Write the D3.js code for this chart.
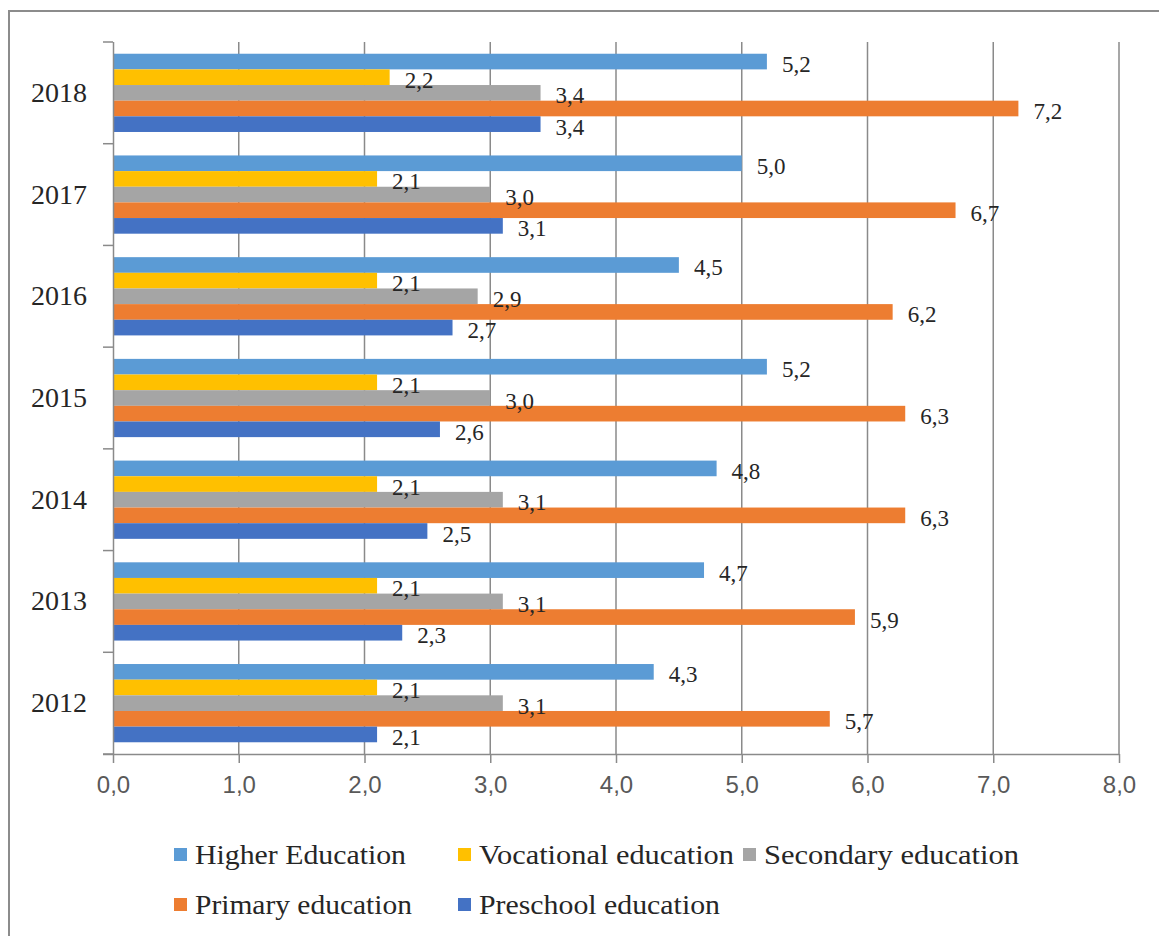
<!DOCTYPE html>
<html><head><meta charset="utf-8">
<script src="https://cdn.jsdelivr.net/npm/d3@7"></script>
<style>body{margin:0;background:#fff;} svg{display:block;}</style>
</head><body>
<svg id="c" width="1159" height="936"></svg>
<script>
const years = ["2018","2017","2016","2015","2014","2013","2012"];
const seriesNames = ["Higher Education","Vocational education","Secondary education","Primary education","Preschool education"];
const seriesColors = ["#5B9BD5","#FFC000","#A5A5A5","#ED7D31","#4472C4"];
const higher    = [5.2,5.0,4.5,5.2,4.8,4.7,4.3];
const vocational= [2.2,2.1,2.1,2.1,2.1,2.1,2.1];
const secondary = [3.4,3.0,2.9,3.0,3.1,3.1,3.1];
const primary   = [7.2,6.7,6.2,6.3,6.3,5.9,5.7];
const preschool = [3.4,3.1,2.7,2.6,2.5,2.3,2.1];
const xTicks = [0,1,2,3,4,5,6,7,8];

const seriesValues = [higher,vocational,secondary,primary,preschool];
const svg = d3.select("#c");

// outer border
svg.append("rect").attr("x",9).attr("y",11).attr("width",1170).attr("height",950)
  .attr("fill","none").attr("stroke","#8c8c8c").attr("stroke-width",2);

const x = d3.scaleLinear().domain([0,8]).range([113,1119]);
const y0 = d3.scaleBand().domain(years).range([42,754]).padding(0);
const bw = y0.bandwidth();
const groupH = bw/1.3;
const off = (bw-groupH)/2;
const y1 = d3.scaleBand().domain(seriesNames).range([off, off+groupH]).padding(0);

// gridlines
svg.append("g").selectAll("line").data(xTicks.slice(1)).join("line")
  .attr("x1",d=>x(d)).attr("x2",d=>x(d)).attr("y1",42).attr("y2",754)
  .attr("stroke","#8a8a8a").attr("stroke-width",1.5);

// bars
const data = [];
years.forEach((yr,i)=>seriesNames.forEach((s,j)=>data.push({yr,s,j,v:seriesValues[j][i]})));
svg.append("g").selectAll("rect").data(data).join("rect")
  .attr("x",x(0)).attr("y",d=>y0(d.yr)+y1(d.s)).attr("width",d=>x(d.v)-x(0))
  .attr("height",y1.bandwidth()).attr("fill",d=>seriesColors[d.j]);

// x axis
const xa = svg.append("g").attr("transform","translate(0,754)")
  .call(d3.axisBottom(x).tickValues(xTicks).tickSize(9).tickPadding(18)
    .tickFormat(d=>d3.format(".1f")(d).replace(".",",")));
xa.select(".domain").attr("stroke","#8a8a8a").attr("stroke-width",1.5).attr("d","M103,0.5H1119");
xa.selectAll(".tick line").attr("stroke","#8a8a8a").attr("stroke-width",1.5);
xa.selectAll(".tick text").attr("fill","#595959").attr("font-family","'Liberation Sans', Arial, sans-serif").attr("font-size",24).attr("dy","0.5em");

// y axis
const ya = svg.append("g").attr("transform","translate(113,0)")
  .call(d3.axisLeft(y0).tickSize(0).tickPadding(26));
ya.select(".domain").attr("stroke","#8a8a8a").attr("stroke-width",1.5).attr("d","M0.5,42V754");
ya.selectAll(".tick text").attr("fill","#262626").attr("font-family","'Liberation Serif', 'Times New Roman', serif").attr("font-size",28);
// band boundary ticks
const bounds = years.map(yv=>y0(yv)).concat([754]);
svg.append("g").selectAll("line").data(bounds).join("line")
  .attr("x1",103).attr("x2",113).attr("y1",d=>d).attr("y2",d=>d)
  .attr("stroke","#8a8a8a").attr("stroke-width",1.5);

// data labels
svg.append("g").selectAll("text").data(data).join("text")
  .attr("x",d=>x(d.v)+15).attr("y",d=>y0(d.yr)+y1(d.s)+y1.bandwidth()/2+3)
  .attr("dominant-baseline","central")
  .attr("font-family","'Liberation Serif', 'Times New Roman', serif").attr("font-size",23)
  .attr("fill","#262626")
  .text(d=>d3.format(".1f")(d.v).replace(".",","));

// legend
const leg = [
  {i:0,x:174,y:855,w:211},{i:1,x:458,y:855,w:255},{i:2,x:743,y:855,w:255},
  {i:3,x:174,y:905,w:217},{i:4,x:458,y:905,w:241}
];
const lg = svg.append("g").selectAll("g").data(leg).join("g")
  .attr("transform",d=>`translate(${d.x},${d.y})`);
lg.append("rect").attr("x",0).attr("y",-7).attr("width",13).attr("height",13)
  .attr("fill",d=>seriesColors[d.i]);
lg.append("text").attr("x",21).attr("y",0).attr("dominant-baseline","central")
  .attr("font-family","'Liberation Serif', 'Times New Roman', serif").attr("font-size",27)
  .attr("fill","#262626").attr("textLength",d=>d.w).attr("lengthAdjust","spacingAndGlyphs")
  .text(d=>seriesNames[d.i]);
</script>
</body></html>
